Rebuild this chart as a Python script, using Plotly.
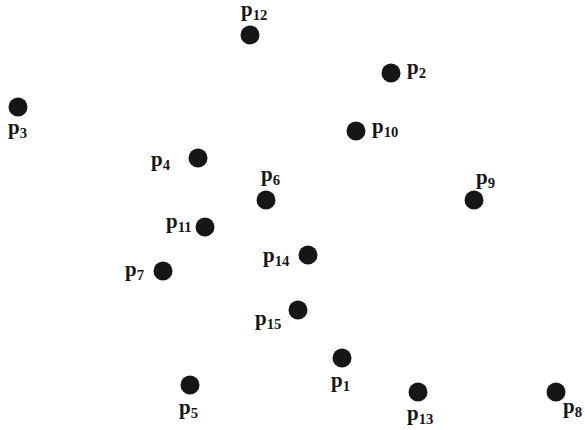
import plotly.graph_objects as go

# point positions (pixel-like units, y downwards)
names = ["p1", "p2", "p3", "p4", "p5", "p6", "p7", "p8",
         "p9", "p10", "p11", "p12", "p13", "p14", "p15"]
xs = [342, 391, 18, 198, 190, 266, 163, 556, 474, 356, 205, 250, 418, 308, 298]
ys = [358, 73, 107, 158, 385, 200, 271, 392, 200, 131, 227, 35, 392, 255, 310]

# label offsets from each point, in screen pixels (dx, dy downwards)
label_off = {
    "p1": (-2, 23), "p2": (25, -5), "p3": (-1, 21), "p4": (-37, 2),
    "p5": (-2, 23), "p6": (4, -25), "p7": (-29, -1), "p8": (16, 15),
    "p9": (11, -22), "p10": (29, -4), "p11": (-26, -5), "p12": (4, -25),
    "p13": (2, 22), "p14": (-32, 1), "p15": (-30, 9),
}

fig = go.Figure()
fig.add_trace(go.Scatter(
    x=xs, y=ys, mode="markers",
    marker=dict(size=19, color="#161616"),
    hoverinfo="text", text=names,
))

for n, x, y in zip(names, xs, ys):
    dx, dy = label_off[n]
    fig.add_annotation(
        x=x, y=y,
        text="<b>p<sub style='font-size:15px'>" + n[1:] + "</sub></b>",
        showarrow=False, xanchor="center", yanchor="middle",
        xshift=dx, yshift=-dy,
        font=dict(family="Liberation Serif", size=21, color="#161616"),
    )

fig.update_layout(
    width=585, height=430,
    margin=dict(l=0, r=0, t=0, b=0),
    paper_bgcolor="white", plot_bgcolor="white",
    showlegend=False,
    xaxis=dict(range=[0, 585], visible=False),
    yaxis=dict(range=[430, 0], visible=False),
)

# page body has a default 8px margin, drop it so the figure fills the window
fig.write_html("out.html", config={"displayModeBar": False},
               post_script="document.body.style.margin='0';")
